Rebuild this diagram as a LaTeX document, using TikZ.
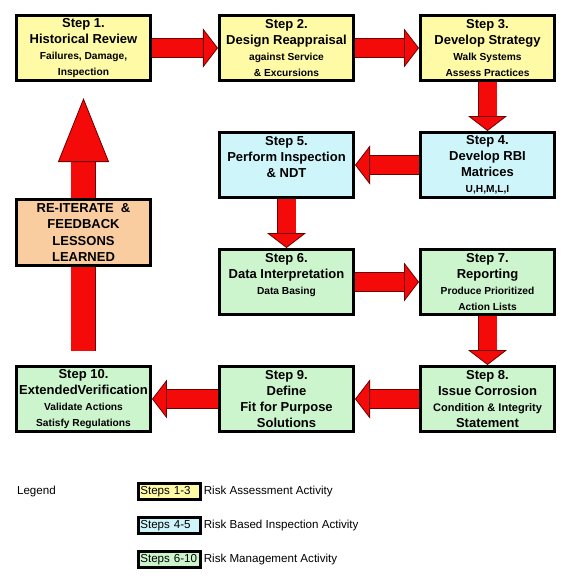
\documentclass[tikz,border=0pt]{standalone}
\usepackage{fontspec}
\setmainfont{Liberation Sans}
\usetikzlibrary{positioning, arrows.meta}

\definecolor{assessYellow}{RGB}{255,250,165}
\definecolor{rbiBlue}{RGB}{205,245,250}
\definecolor{manageGreen}{RGB}{205,245,205}
\definecolor{feedbackPeach}{RGB}{250,205,160}
\definecolor{arrowRed}{RGB}{245,10,10}
\definecolor{arrowEdge}{RGB}{110,0,0}

\newcommand{\hd}{\fontsize{13}{16}\selectfont\bfseries}
\newcommand{\sm}{\fontsize{10.2}{16}\selectfont\bfseries}

\tikzstyle{boxes} = [rectangle, minimum width=134.4pt, minimum height=65.4pt, inner sep=1pt,
align=center, line width=2.6pt, draw=black, font=\hd, execute at begin node={\rule{0pt}{13.5pt}}]
\tikzstyle{assess} = [boxes, fill=assessYellow]
\tikzstyle{rbi} = [boxes, fill=rbiBlue]
\tikzstyle{manage} = [boxes, fill=manageGreen]
\tikzstyle{keys} = [rectangle, anchor=west, text width=58pt, minimum height=16.4pt, inner sep=2pt,
line width=2.6pt, draw=black, font=\fontsize{11.6}{13}\selectfont]
\tikzstyle{keyText} = [inner sep=2pt, font=\fontsize{11.6}{13}\selectfont]
\tikzstyle{blockArrow} = [line width=18pt, draw=arrowRed,
-{Triangle[width=39pt,length=15pt,line width=0.8pt,color=arrowEdge,fill=arrowRed]},
preaction={draw=arrowEdge, line width=19.6pt, -, shorten >=14pt}]
\tikzstyle{bigArrow} = [line width=24pt, draw=arrowRed, shorten <=14pt, shorten >=16pt,
-{Triangle[width=51pt,length=64pt,line width=0.8pt,color=arrowEdge,fill=arrowRed]},
preaction={draw=arrowEdge, line width=25.6pt, -, shorten >=79pt}]

\begin{document}
\begin{tikzpicture}[x=1pt, y=1pt]
    \useasboundingbox (-83.5,48) rectangle (487.5,-534);

    \node (history) [assess] {Step 1.\\Historical Review\\\sm Failures, Damage,\\\sm Inspection};
    \node (redesign) [assess, right=66pt of history] {Step 2.\\Design Reappraisal\\\sm against Service\\\sm \& Excursions};
    \node (strategy) [assess, right=64pt of redesign] {Step 3.\\Develop Strategy\\\sm Walk Systems\\\sm Assess Practices};
    \node (matrices) [rbi, below=49pt of strategy] {Step 4.\\Develop RBI\\Matrices\\\sm U,H,M,L,I};
    \node (inspect) [rbi, left=64pt of matrices] {Step 5.\\Perform Inspection\\\& NDT\\~};
    \node (dataInterp) [manage, below=49pt of inspect] {Step 6.\\Data Interpretation\\\sm Data Basing\\~};
    \node (reporting) [manage, right=64pt of dataInterp] {Step 7.\\Reporting\\\sm Produce Prioritized\\\sm Action Lists};
    \node (corrosion) [manage, below=49pt of reporting] {Step 8.\\Issue Corrosion\\\fontsize{11}{16}\selectfont Condition \& Integrity\\Statement};
    \node (fitPurpose) [manage, left=64pt of corrosion] {Step 9.\\Define\\Fit for Purpose\\Solutions};
    \node (verify) [manage, left=66pt of fitPurpose] {Step 10.\\ExtendedVerification\\\sm Validate Actions\\\sm Satisfy Regulations};

    \draw[blockArrow] (history) -- (redesign);
    \draw[blockArrow] (redesign) -- (strategy);
    \draw[blockArrow] (strategy) -- (matrices);
    \draw[blockArrow] (matrices) -- (inspect);
    \draw[blockArrow] (inspect) -- (dataInterp);
    \draw[blockArrow] (dataInterp) -- (reporting);
    \draw[blockArrow] (reporting) -- (corrosion);
    \draw[blockArrow] (corrosion) -- (fitPurpose);
    \draw[blockArrow] (fitPurpose) -- (verify);
    \draw[bigArrow] (verify) -- (history);

    \node (feedback) [boxes, fill=feedbackPeach, below=116pt of history, minimum height=66.4pt,
    font=\fontsize{13}{16.5}\selectfont\bfseries] {RE-ITERATE~~\&\\FEEDBACK\\LESSONS\\LEARNED};

    % legend
    \node (keyAssess) [keys, fill=assessYellow, below=49pt of verify.south west, anchor=north west, xshift=122pt] {Steps 1-3};
    \node (keyRbi) [keys, fill=rbiBlue, below=15pt of keyAssess] {Steps 4-5};
    \node (keyManage) [keys, fill=manageGreen, below=15pt of keyRbi] {Steps 6-10};
    \node (assessText) [keyText, right=0pt of keyAssess] {Risk Assessment Activity};
    \node (rbiText) [keyText, right=0pt of keyRbi] {Risk Based Inspection Activity};
    \node (manageText) [keyText, right=0pt of keyManage] {Risk Management Activity};
    \node (legendLabel) [keyText, left=79pt of keyAssess] {Legend};

\end{tikzpicture}
\end{document}
